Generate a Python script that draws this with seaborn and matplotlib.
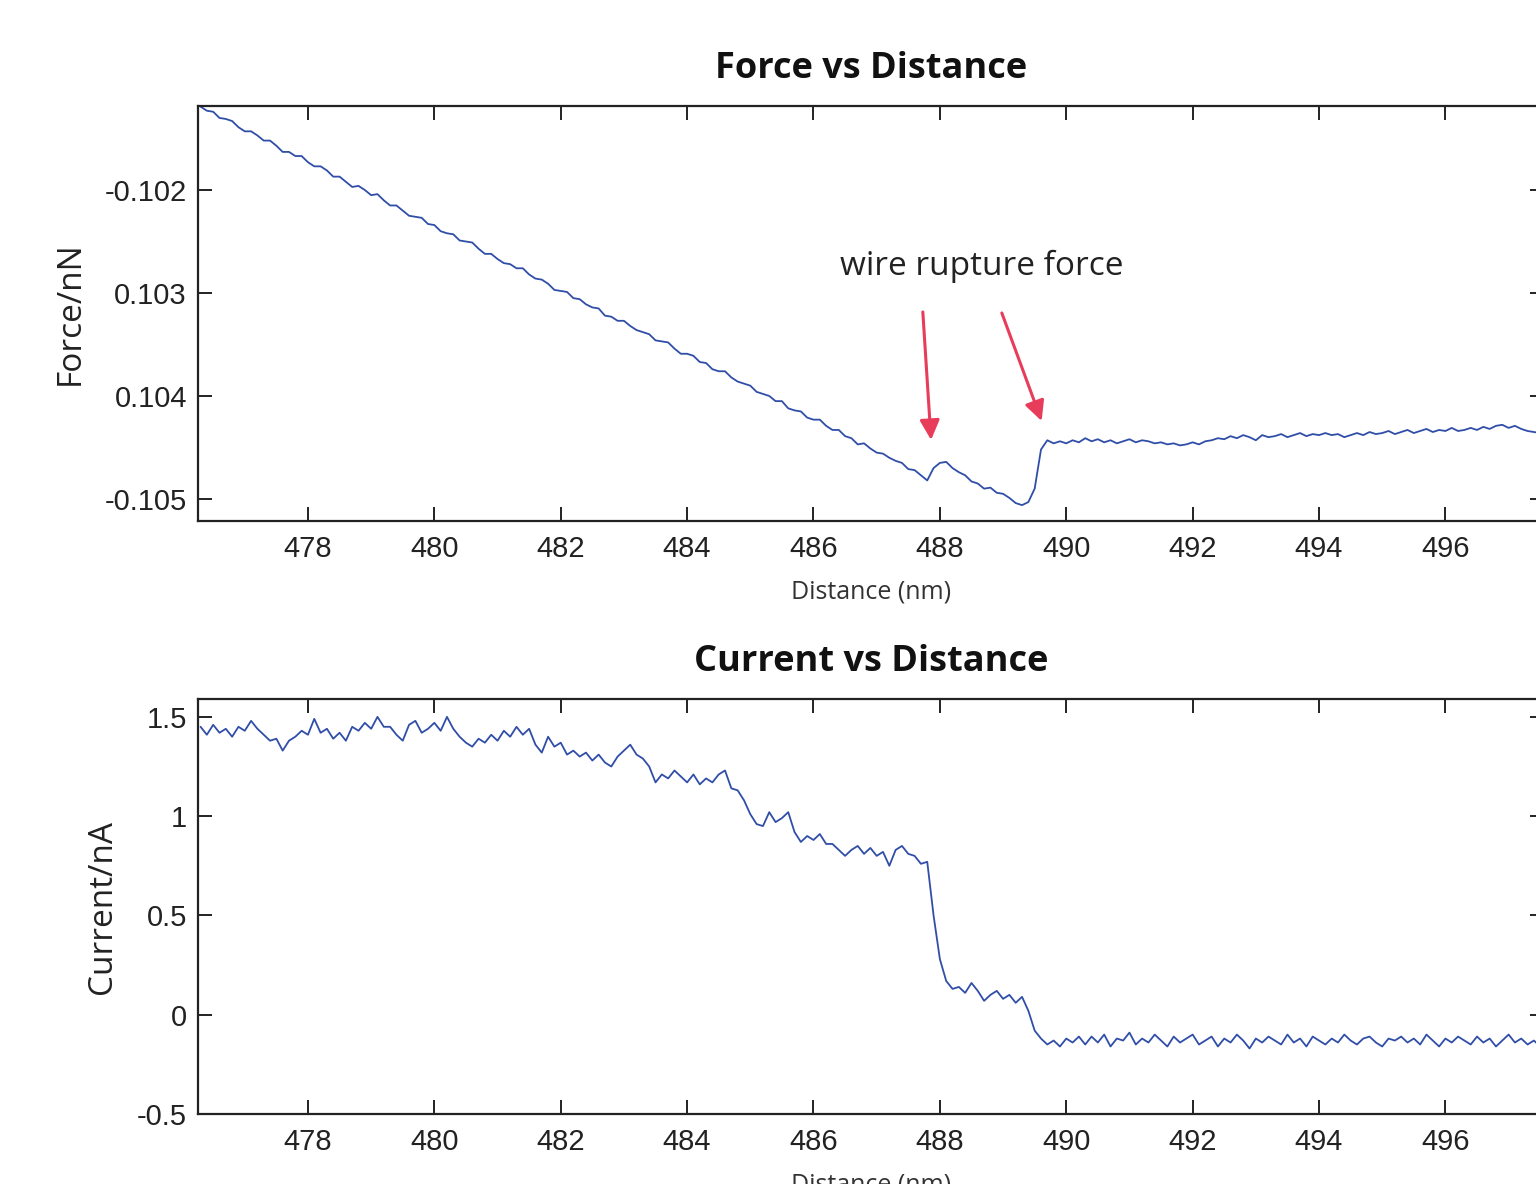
import numpy as np
import matplotlib
matplotlib.use("Agg")
import matplotlib.pyplot as plt
import seaborn as sns

# distance samples (nm), every 0.1 nm
distance = [
    476.3, 476.4, 476.5, 476.6, 476.7, 476.8, 476.9, 477.0, 477.1, 477.2,
    477.3, 477.4, 477.5, 477.6, 477.7, 477.8, 477.9, 478.0, 478.1, 478.2,
    478.3, 478.4, 478.5, 478.6, 478.7, 478.8, 478.9, 479.0, 479.1, 479.2,
    479.3, 479.4, 479.5, 479.6, 479.7, 479.8, 479.9, 480.0, 480.1, 480.2,
    480.3, 480.4, 480.5, 480.6, 480.7, 480.8, 480.9, 481.0, 481.1, 481.2,
    481.3, 481.4, 481.5, 481.6, 481.7, 481.8, 481.9, 482.0, 482.1, 482.2,
    482.3, 482.4, 482.5, 482.6, 482.7, 482.8, 482.9, 483.0, 483.1, 483.2,
    483.3, 483.4, 483.5, 483.6, 483.7, 483.8, 483.9, 484.0, 484.1, 484.2,
    484.3, 484.4, 484.5, 484.6, 484.7, 484.8, 484.9, 485.0, 485.1, 485.2,
    485.3, 485.4, 485.5, 485.6, 485.7, 485.8, 485.9, 486.0, 486.1, 486.2,
    486.3, 486.4, 486.5, 486.6, 486.7, 486.8, 486.9, 487.0, 487.1, 487.2,
    487.3, 487.4, 487.5, 487.6, 487.7, 487.8, 487.9, 488.0, 488.1, 488.2,
    488.3, 488.4, 488.5, 488.6, 488.7, 488.8, 488.9, 489.0, 489.1, 489.2,
    489.3, 489.4, 489.5, 489.6, 489.7, 489.8, 489.9, 490.0, 490.1, 490.2,
    490.3, 490.4, 490.5, 490.6, 490.7, 490.8, 490.9, 491.0, 491.1, 491.2,
    491.3, 491.4, 491.5, 491.6, 491.7, 491.8, 491.9, 492.0, 492.1, 492.2,
    492.3, 492.4, 492.5, 492.6, 492.7, 492.8, 492.9, 493.0, 493.1, 493.2,
    493.3, 493.4, 493.5, 493.6, 493.7, 493.8, 493.9, 494.0, 494.1, 494.2,
    494.3, 494.4, 494.5, 494.6, 494.7, 494.8, 494.9, 495.0, 495.1, 495.2,
    495.3, 495.4, 495.5, 495.6, 495.7, 495.8, 495.9, 496.0, 496.1, 496.2,
    496.3, 496.4, 496.5, 496.6, 496.7, 496.8, 496.9, 497.0, 497.1, 497.2,
    497.3, 497.4, 497.5,
]

# force (nN)
force = [
    -0.10119, -0.10123, -0.10124, -0.10130, -0.10131, -0.10133, -0.10139, -0.10143, -0.10143, -0.10147,
    -0.10152, -0.10152, -0.10157, -0.10163, -0.10163, -0.10167, -0.10167, -0.10173, -0.10177, -0.10177,
    -0.10181, -0.10187, -0.10187, -0.10192, -0.10197, -0.10196, -0.10200, -0.10205, -0.10204, -0.10210,
    -0.10215, -0.10215, -0.10220, -0.10225, -0.10226, -0.10227, -0.10233, -0.10234, -0.10240, -0.10242,
    -0.10243, -0.10249, -0.10250, -0.10251, -0.10257, -0.10262, -0.10262, -0.10267, -0.10271, -0.10272,
    -0.10276, -0.10276, -0.10282, -0.10286, -0.10287, -0.10291, -0.10297, -0.10298, -0.10299, -0.10305,
    -0.10306, -0.10311, -0.10314, -0.10315, -0.10322, -0.10323, -0.10327, -0.10327, -0.10332, -0.10336,
    -0.10338, -0.10340, -0.10346, -0.10347, -0.10348, -0.10354, -0.10359, -0.10359, -0.10361, -0.10367,
    -0.10368, -0.10374, -0.10376, -0.10376, -0.10382, -0.10386, -0.10388, -0.10390, -0.10396, -0.10398,
    -0.10400, -0.10405, -0.10405, -0.10412, -0.10414, -0.10415, -0.10421, -0.10423, -0.10423, -0.10429,
    -0.10433, -0.10433, -0.10439, -0.10441, -0.10447, -0.10446, -0.10451, -0.10455, -0.10456, -0.10460,
    -0.10463, -0.10465, -0.10471, -0.10472, -0.10477, -0.10482, -0.10470, -0.10465, -0.10464, -0.10470,
    -0.10474, -0.10477, -0.10483, -0.10485, -0.10490, -0.10489, -0.10494, -0.10495, -0.10499, -0.10504,
    -0.10506, -0.10503, -0.10490, -0.10452, -0.10443, -0.10446, -0.10444, -0.10446, -0.10443, -0.10445,
    -0.10441, -0.10444, -0.10442, -0.10445, -0.10443, -0.10446, -0.10444, -0.10442, -0.10445, -0.10443,
    -0.10444, -0.10446, -0.10445, -0.10447, -0.10446, -0.10448, -0.10447, -0.10445, -0.10447, -0.10444,
    -0.10443, -0.10441, -0.10442, -0.10439, -0.10441, -0.10438, -0.10440, -0.10443, -0.10438, -0.10440,
    -0.10439, -0.10437, -0.10440, -0.10438, -0.10436, -0.10439, -0.10437, -0.10438, -0.10436, -0.10438,
    -0.10437, -0.10440, -0.10438, -0.10436, -0.10438, -0.10435, -0.10437, -0.10436, -0.10434, -0.10437,
    -0.10435, -0.10433, -0.10436, -0.10434, -0.10432, -0.10435, -0.10433, -0.10434, -0.10431, -0.10434,
    -0.10433, -0.10431, -0.10433, -0.10430, -0.10432, -0.10429, -0.10428, -0.10431, -0.10429, -0.10432,
    -0.10434, -0.10435, -0.10436,
]

# current (nA)
current = [
    1.45, 1.41, 1.46, 1.42, 1.44, 1.40, 1.45, 1.43, 1.48, 1.44,
    1.41, 1.38, 1.39, 1.33, 1.38, 1.40, 1.43, 1.41, 1.49, 1.42,
    1.44, 1.39, 1.42, 1.38, 1.45, 1.43, 1.47, 1.44, 1.50, 1.45,
    1.45, 1.41, 1.38, 1.46, 1.48, 1.42, 1.44, 1.47, 1.43, 1.50,
    1.44, 1.40, 1.37, 1.35, 1.39, 1.37, 1.41, 1.38, 1.43, 1.40,
    1.45, 1.41, 1.44, 1.36, 1.32, 1.40, 1.35, 1.37, 1.31, 1.33,
    1.30, 1.32, 1.28, 1.31, 1.27, 1.25, 1.30, 1.33, 1.36, 1.31,
    1.29, 1.25, 1.17, 1.21, 1.19, 1.23, 1.20, 1.17, 1.21, 1.16,
    1.19, 1.17, 1.21, 1.23, 1.14, 1.13, 1.08, 1.01, 0.96, 0.95,
    1.02, 0.97, 0.99, 1.02, 0.92, 0.87, 0.90, 0.88, 0.91, 0.86,
    0.86, 0.83, 0.80, 0.83, 0.85, 0.81, 0.84, 0.80, 0.82, 0.75,
    0.83, 0.85, 0.81, 0.80, 0.76, 0.77, 0.50, 0.28, 0.17, 0.13,
    0.14, 0.11, 0.16, 0.12, 0.07, 0.10, 0.12, 0.08, 0.10, 0.06,
    0.09, 0.02, -0.08, -0.12, -0.15, -0.13, -0.16, -0.12, -0.14, -0.11,
    -0.15, -0.11, -0.14, -0.10, -0.16, -0.12, -0.13, -0.09, -0.15, -0.12,
    -0.14, -0.10, -0.13, -0.16, -0.11, -0.14, -0.12, -0.10, -0.15, -0.13,
    -0.11, -0.16, -0.12, -0.14, -0.10, -0.13, -0.17, -0.12, -0.14, -0.11,
    -0.13, -0.15, -0.10, -0.14, -0.12, -0.16, -0.11, -0.13, -0.15, -0.12,
    -0.14, -0.10, -0.13, -0.15, -0.12, -0.11, -0.14, -0.16, -0.12, -0.13,
    -0.11, -0.14, -0.12, -0.15, -0.10, -0.13, -0.16, -0.12, -0.14, -0.11,
    -0.13, -0.15, -0.11, -0.14, -0.12, -0.16, -0.13, -0.10, -0.14, -0.12,
    -0.15, -0.13, -0.16,
]

x_ticks = [478, 480, 482, 484, 486, 488, 490, 492, 494, 496]
force_ticks = [-0.102, -0.103, -0.104, -0.105]
force_tick_labels = ["-0.102", "0.103", "0.104", "-0.105"]
current_ticks = [1.5, 1.0, 0.5, 0.0, -0.5]
current_tick_labels = ["1.5", "1", "0.5", "0", "-0.5"]

sns.set_theme(style="ticks")
plt.rcParams["font.family"] = ["Open Sans", "DejaVu Sans"]
plt.rcParams["axes.unicode_minus"] = False

line_color = "#304EA8"
arrow_color = "#E83D5A"
text_color = "#222222"

fig = plt.figure(figsize=(15.36, 11.84), dpi=100)
ax_f = fig.add_axes([0.12891, 0.55997, 0.87630, 0.35051])
ax_c = fig.add_axes([0.12891, 0.05912, 0.87630, 0.35051])


def style_axes(ax, yticks, ylabels):
    ax.set_xlim(476.26, 497.56)
    ax.set_xticks(x_ticks)
    ax.set_xticklabels([str(t) for t in x_ticks], family="Liberation Sans",
                       fontsize=21, color=text_color)
    ax.set_yticks(yticks)
    ax.set_yticklabels(ylabels, family="Liberation Sans", fontsize=21, color=text_color)
    ax.tick_params(direction="in", length=10, width=1.4, top=True, right=True,
                   color="#222222")
    ax.tick_params(axis="x", pad=10)
    ax.tick_params(axis="y", pad=8)
    for s in ax.spines.values():
        s.set_linewidth(1.6)
        s.set_color("#222222")
        s.set_visible(True)
    ax.set_xlabel("Distance (nm)", fontsize=18, color="#333333", labelpad=12)


# force panel
sns.lineplot(x=distance, y=force, ax=ax_f, color=line_color, linewidth=1.3,
             estimator=None)
ax_f.set_ylim(-0.105214, -0.101184)
style_axes(ax_f, force_ticks, force_tick_labels)
ax_f.set_ylabel("Force/nN", fontsize=24, color=text_color, labelpad=13)
ax_f.set_title("Force vs Distance", fontsize=26, fontweight="bold",
               color="#111111", pad=20)

ax_f.text(486.42, -0.102738, "wire rupture force", fontsize=24,
          color=text_color, ha="left", va="center")
ax_f.annotate("", xy=(487.86, -0.104427), xytext=(487.73, -0.103184),
              arrowprops=dict(arrowstyle="-|>", color=arrow_color, lw=2.2,
                              mutation_scale=30, shrinkA=0, shrinkB=0))
ax_f.annotate("", xy=(489.61, -0.104243), xytext=(488.98, -0.103194),
              arrowprops=dict(arrowstyle="-|>", color=arrow_color, lw=2.2,
                              mutation_scale=30, shrinkA=0, shrinkB=0))

# current panel
sns.lineplot(x=distance, y=current, ax=ax_c, color=line_color, linewidth=1.3,
             estimator=None)
ax_c.set_ylim(-0.5, 1.59)
style_axes(ax_c, current_ticks, current_tick_labels)
ax_c.set_ylabel("Current/nA", fontsize=24, color=text_color, labelpad=13)
ax_c.set_title("Current vs Distance", fontsize=26, fontweight="bold",
               color="#111111", pad=20)

fig.savefig("out.png", dpi=100)
plt.close(fig)
